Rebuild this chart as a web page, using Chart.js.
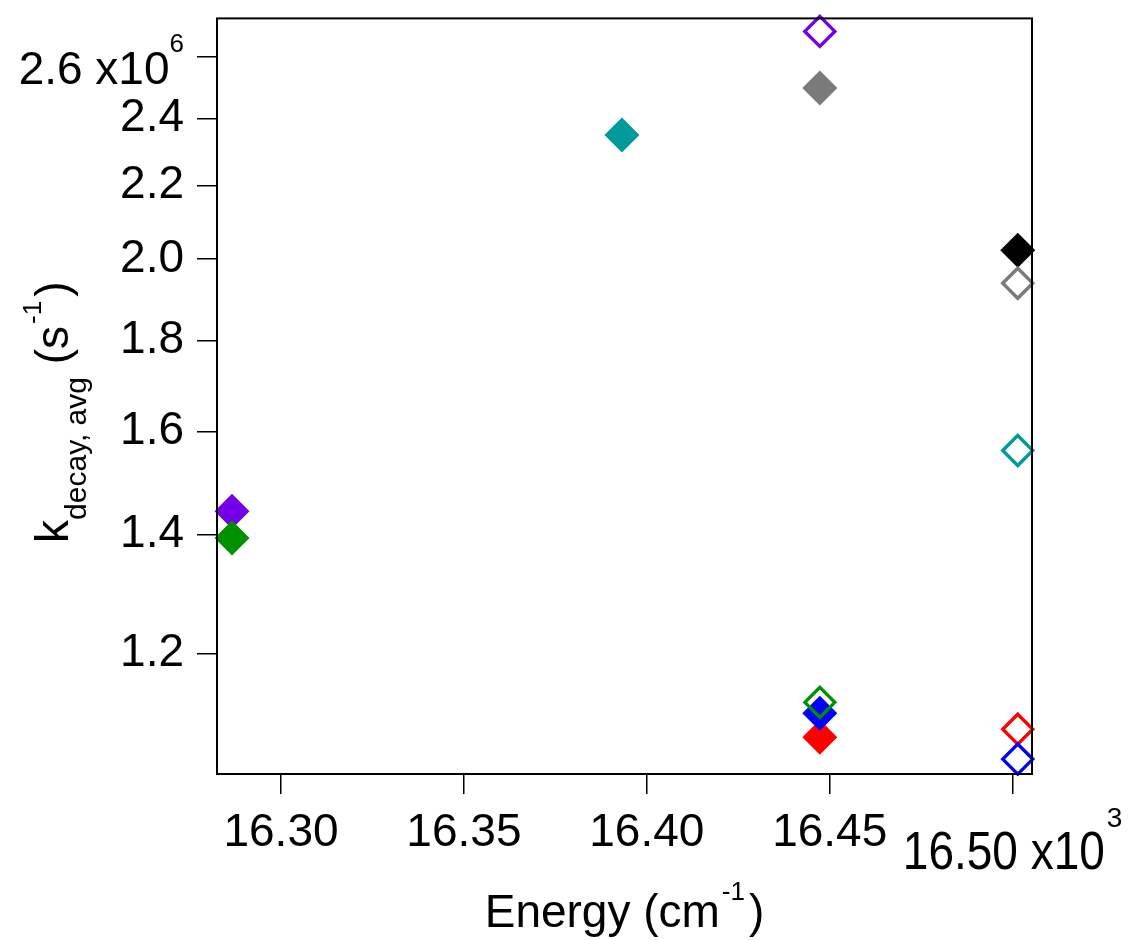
<!DOCTYPE html>
<html><head><meta charset="utf-8">
<script src="https://cdn.jsdelivr.net/npm/chart.js@4/dist/chart.umd.min.js"></script>
<style>html,body{margin:0;padding:0;background:#fff;}#wrap{width:1132px;height:940px;position:relative;}</style>
</head><body><div id="wrap"><canvas id="c" width="1132" height="940"></canvas></div>
<script>
const FONT = '"Liberation Sans", Arial, Helvetica, sans-serif';

// tick values
const xTickValues = [16300, 16350, 16400, 16450, 16500];
const yTickValues = [1.2e6, 1.4e6, 1.6e6, 1.8e6, 2.0e6, 2.2e6, 2.4e6, 2.6e6];

// filled diamonds (energy in cm^-1, k in s^-1)
const filledEnergy = [16286.6, 16286.6, 16393.2, 16447.3, 16447.3, 16447.3, 16501.4];
const filledRate   = [1.443e6, 1.3936e6, 2.349e6, 2.496e6, 1.0768e6, 1.1106e6, 2.0229e6];
const filledColors = ['#7300E6', '#009000', '#009A9A', '#7A7A7A', '#FF0000', '#0000FF', '#000000'];

// open diamonds
const openEnergy = [16447.3, 16447.3, 16501.4, 16501.4, 16501.4, 16501.4];
const openRate   = [2.686e6, 1.1265e6, 1.9385e6, 1.561e6, 1.088e6, 1.0467e6];
const openColors = ['#7300E6', '#009000', '#7A7A7A', '#009A9A', '#FF0000', '#0000FF'];

const xMin = 16282.5, xMax = 16505.3;
const yMin = 1.0267e6, yMax = 2.7316e6;

function pts(xs, ys) { return xs.map((x, i) => ({x: x, y: ys[i]})); }

function drawRich(ctx, parts, ax, by, align) {
  let total = 0;
  parts.forEach(p => { ctx.font = p.size + 'px ' + FONT; p.w = ctx.measureText(p.t).width; total += p.w + (p.gap || 0); });
  let x = align === 'center' ? ax - total / 2 : (align === 'right' ? ax - total : ax);
  ctx.textAlign = 'left'; ctx.textBaseline = 'alphabetic'; ctx.fillStyle = '#000';
  parts.forEach(p => {
    ctx.font = p.size + 'px ' + FONT;
    x += (p.gap || 0);
    const yy = by + (p.dy || 0);
    if (p.sy) {
      ctx.save(); ctx.translate(x, yy); ctx.scale(1, p.sy); ctx.fillText(p.t, 0, 0); ctx.restore();
    } else {
      ctx.fillText(p.t, x, yy);
    }
    x += p.w;
  });
}

const deco = {
  id: 'deco',
  afterDraw(chart) {
    const ctx = chart.ctx, a = chart.chartArea, xs = chart.scales.x, ys = chart.scales.y;
    ctx.save();
    ctx.strokeStyle = '#000'; ctx.lineWidth = 2;
    ctx.strokeRect(a.left, a.top, a.right - a.left, a.bottom - a.top);
    // last x tick label with exponent
    const lastX = xTickValues[xTickValues.length - 1];
    drawRich(ctx, [{t: (lastX / 1000).toFixed(2) + ' x10', size: 46, sy: 1.15}, {t: '3', size: 28, dy: -42, gap: 2}],
      xs.getPixelForValue(lastX), 869, 'center');
    // top y tick label with exponent
    const topY = yTickValues[yTickValues.length - 1];
    drawRich(ctx, [{t: (topY / 1e6).toFixed(1) + ' x10', size: 46}, {t: '6', size: 26, dy: -32}],
      184, ys.getPixelForValue(topY) + 27, 'right');
    // x title
    drawRich(ctx, [{t: 'Energy (cm', size: 46}, {t: '-1', size: 26, dy: -27, gap: 2}, {t: ')', size: 46, gap: 4}],
      (a.left + a.right) / 2, 927, 'center');
    // y title
    ctx.translate(68, (a.top + a.bottom) / 2 + 16);
    ctx.rotate(-Math.PI / 2);
    drawRich(ctx, [{t: 'k', size: 46}, {t: 'decay, avg', size: 30, dy: 18}, {t: ' (s', size: 46},
      {t: '-1', size: 26, dy: -27, gap: 2}, {t: ')', size: 46, gap: 4}], 0, 0, 'center');
    ctx.restore();
  }
};

new Chart(document.getElementById('c'), {
  type: 'scatter',
  data: {
    datasets: [
      {
        label: 'open',
        data: pts(openEnergy, openRate),
        pointStyle: 'rectRot',
        pointRadius: 15,
        pointBorderWidth: 3.4,
        pointBackgroundColor: 'rgba(0,0,0,0)',
        pointBorderColor: openColors,
        clip: false
      },
      {
        label: 'filled',
        data: pts(filledEnergy, filledRate),
        pointStyle: 'rectRot',
        pointRadius: 17.5,
        pointBorderWidth: 0,
        pointBackgroundColor: filledColors,
        pointBorderColor: filledColors,
        clip: false
      }
    ]
  },
  options: {
    responsive: false,
    animation: false,
    events: [],
    layout: {padding: {top: 15, right: 100, left: 0, bottom: 0}},
    plugins: {legend: {display: false}, tooltip: {enabled: false}},
    scales: {
      x: {
        type: 'linear', position: 'bottom', min: xMin, max: xMax,
        afterBuildTicks: s => { s.ticks = xTickValues.map(v => ({value: v})); },
        afterFit: s => { s.height = 166; s.paddingLeft = 0; s.paddingRight = 0; s.paddingTop = 0; s.paddingBottom = 0; },
        grid: {display: true, drawOnChartArea: false, drawTicks: true, tickLength: 20, color: '#000', lineWidth: 1.5},
        border: {display: false},
        ticks: {
          autoSkip: false, maxRotation: 0, padding: 12, color: '#000',
          font: {family: FONT, size: 46},
          callback: v => v === xTickValues[xTickValues.length - 1] ? '' : (v / 1000).toFixed(2)
        }
      },
      y: {
        type: 'logarithmic', position: 'left', min: yMin, max: yMax,
        afterBuildTicks: s => { s.ticks = yTickValues.map(v => ({value: v})); },
        afterFit: s => { s.width = 217; s.paddingLeft = 0; s.paddingRight = 0; s.paddingTop = 0; s.paddingBottom = 0; },
        grid: {display: true, drawOnChartArea: false, drawTicks: true, tickLength: 20, color: '#000', lineWidth: 1.5},
        border: {display: false},
        ticks: {
          autoSkip: false, padding: 13, color: '#000',
          font: {family: FONT, size: 46},
          callback: v => v === yTickValues[yTickValues.length - 1] ? '' : (v / 1e6).toFixed(1)
        }
      }
    }
  },
  plugins: [deco]
});
</script>
</body></html>
